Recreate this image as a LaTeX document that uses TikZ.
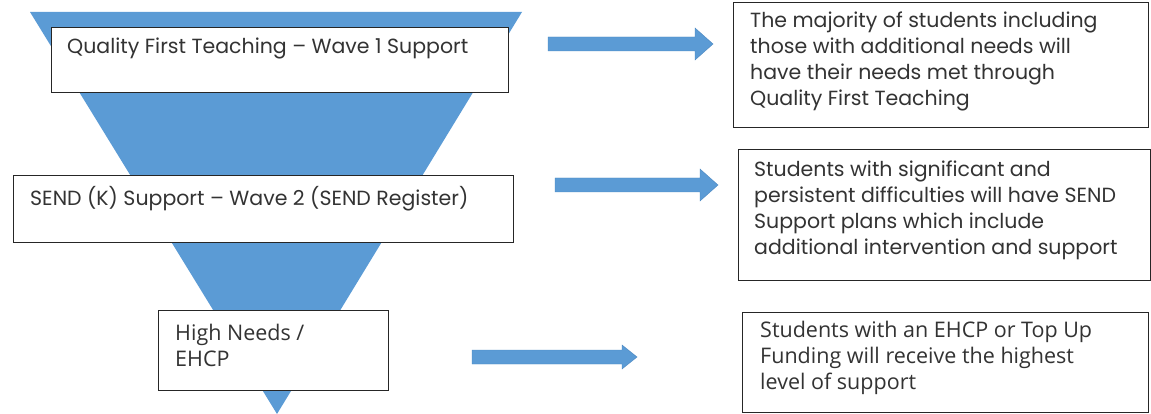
\documentclass[tikz,border=0pt]{standalone}
\usepackage{fontspec}
\setmainfont{Poppins}
\newfontfamily\segoe{Open Sans}
\definecolor{blu}{HTML}{5B9BD5}
\definecolor{bludk}{HTML}{4A86C0}
\tikzset{
  boxr/.style={draw=black!85, line width=1pt, fill=white},
  txta/.style={anchor=north west, inner sep=0pt, align=left, text=black!80, font=\fontsize{20.5}{26}\selectfont},
  txtb/.style={anchor=north west, inner sep=0pt, align=left, text=black!80, font=\segoe\fontsize{21.5}{26}\selectfont},
  blockarrow/.style={fill=blu, draw=bludk, line width=0.4pt}
}
\newcommand{\blockarr}[5]{% x0, xh, x1, yc, head half
  \draw[blockarrow] (#1,#4-7) -- (#2,#4-7) -- (#2,#4-#5) -- (#3,#4) -- (#2,#4+#5) -- (#2,#4+7) -- (#1,#4+7) -- cycle;}
\begin{document}
\begin{tikzpicture}[x=1pt,y=-1pt]
\useasboundingbox (0,0) rectangle (1151,414);
% funnel
\fill[blu] (30,12) -- (522,12) -- (277,414) -- cycle;
% left boxes
\draw[boxr] (51,28) rectangle (508,93);
\node[txta] (t1) at (67,38) {Quality First Teaching – Wave 1 Support};
\draw[boxr] (13,176) rectangle (513,242);
\node[txta] (t2) at (30,186) {SEND (K) Support – Wave 2 (SEND Register)};
\draw[boxr] (158,310) rectangle (388,390);
\node[txtb] (t3) at (175,324) {High Needs /\\EHCP};
% arrows
\blockarr{548}{695}{713}{44}{16}
\blockarr{555}{700}{718}{185}{16}
\blockarr{472}{622}{637}{357}{12}
% right boxes
\draw[boxr] (733,3) rectangle (1148,128);
\node[txta] (r1) at (750,12) {The majority of students including\\those with additional needs will\\have their needs met through\\Quality First Teaching};
\draw[boxr] (738,150) rectangle (1150,280);
\node[txta] (r2) at (754,161) {Students with significant and\\persistent difficulties will have SEND\\Support plans which include\\additional intervention and support};
\draw[boxr] (742,312) rectangle (1148,412);
\node[txtb] (r3) at (760,321) {Students with an EHCP or Top Up\\Funding will receive the highest\\level of support};
\end{tikzpicture}
\end{document}
